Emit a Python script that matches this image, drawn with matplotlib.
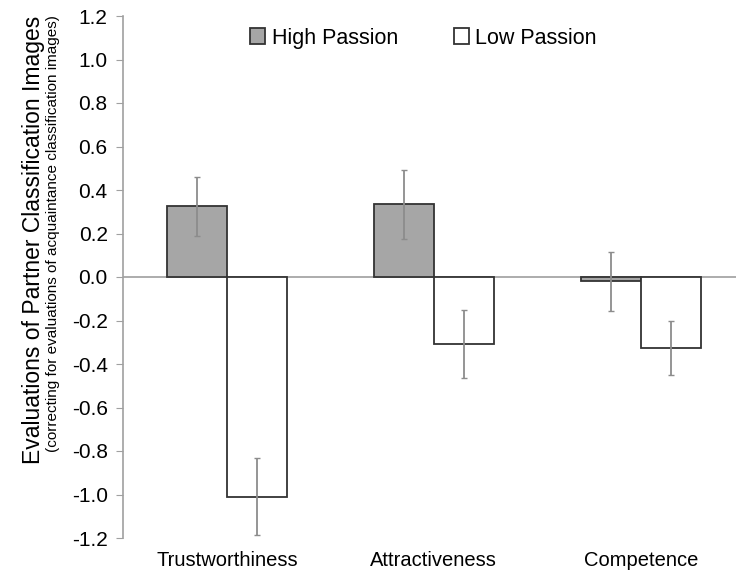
import numpy as np
import matplotlib.pyplot as plt

plt.rcParams['font.family'] = ['Liberation Sans', 'DejaVu Sans']

categories = ['Trustworthiness', 'Attractiveness', 'Competence']
high_passion = [0.325, 0.334, -0.02]
low_passion = [-1.01, -0.308, -0.325]
high_err = [0.135, 0.158, 0.135]
low_err = [0.177, 0.157, 0.125]
yticks = [-1.2, -1.0, -0.8, -0.6, -0.4, -0.2, 0.0, 0.2, 0.4, 0.6, 0.8, 1.0, 1.2]

fig = plt.figure(figsize=(7.36, 5.77), dpi=100)
ax = fig.add_axes([123/736, (577-538)/577, 1 - 123/736, (538-16)/577])

x = np.arange(len(categories))
w = 0.29
ekw = dict(ecolor='#8c8c8c', elinewidth=1.3, capsize=2, capthick=1)
ax.bar(x - w/2, high_passion, w, yerr=high_err, color='#a6a6a6',
       edgecolor='#333333', linewidth=1.3, error_kw=ekw, label='High Passion')
ax.bar(x + w/2, low_passion, w, yerr=low_err, color='white',
       edgecolor='#333333', linewidth=1.3, error_kw=ekw, label='Low Passion')

ax.axhline(0, color='#a6a6a6', linewidth=1.3, zorder=0)
ax.set_xlim(-0.502, 2.46)
ax.set_ylim(-1.2, 1.2)
ax.set_yticks(yticks)
ax.set_yticklabels(['%.1f' % v for v in yticks], fontsize=15)
ax.tick_params(axis='y', direction='out', length=5, color='#a0a0a0', pad=6)
ax.set_xticks(x)
ax.set_xticklabels(categories, fontsize=14.5)
ax.tick_params(axis='x', length=0, pad=9)
for s in ['top', 'right', 'bottom']:
    ax.spines[s].set_visible(False)
ax.spines['left'].set_color('#a0a0a0')
ax.spines['left'].set_linewidth(1.2)

ax.legend(loc='upper center', bbox_to_anchor=(0.49, 1.015), ncol=2, frameon=False,
          fontsize=15.5, handlelength=0.7, handleheight=0.7, handletextpad=0.3,
          columnspacing=2.6)

fig.text(0.045, 1 - 240/577, 'Evaluations of Partner Classification Images',
         rotation=90, ha='center', va='center', fontsize=16.5)
fig.text(0.072, 1 - 234/577, '(correcting for evaluations of acquaintance classification images)',
         rotation=90, ha='center', va='center', fontsize=11)

fig.savefig('out.png', dpi=100)
